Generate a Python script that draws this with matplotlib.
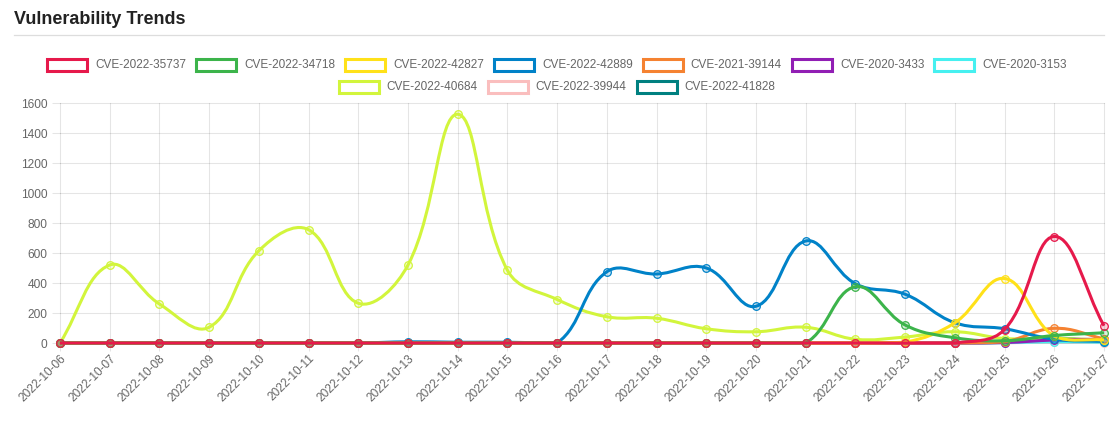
import numpy as np
import matplotlib
matplotlib.use("Agg")
import matplotlib.pyplot as plt
from matplotlib.path import Path
from matplotlib.patches import PathPatch, Rectangle
from matplotlib.lines import Line2D

plt.rcParams['font.family'] = ['Liberation Sans', 'DejaVu Sans']

dates = ["2022-10-%02d" % d for d in range(6, 28)]

series_names = ["CVE-2022-35737", "CVE-2022-34718", "CVE-2022-42827", "CVE-2022-42889",
                "CVE-2021-39144", "CVE-2020-3433", "CVE-2020-3153", "CVE-2022-40684",
                "CVE-2022-39944", "CVE-2022-41828"]
colors = ["#e6194b", "#3cb44b", "#ffe119", "#0082c8", "#f58231", "#911eb4",
          "#46f0f0", "#d2f53c", "#fabebe", "#008080"]

cve_2022_35737 = [0, 0, 0, 0, 0, 0, 0, 0, 0, 0, 0, 0, 0, 0, 0, 0, 0, 0, 0, 90, 710, 115]
cve_2022_34718 = [0, 0, 0, 0, 0, 0, 0, 0, 0, 0, 0, 0, 0, 0, 0, 0, 375, 120, 35, 15, 50, 68]
cve_2022_42827 = [0, 0, 0, 0, 0, 0, 0, 0, 0, 0, 0, 0, 0, 0, 0, 0, 0, 5, 135, 430, 45, 20]
cve_2022_42889 = [0, 0, 0, 0, 0, 0, 0, 8, 5, 5, 0, 475, 460, 500, 245, 680, 395, 325, 135, 95, 25, 10]
cve_2021_39144 = [0, 0, 0, 0, 0, 0, 0, 0, 0, 0, 0, 0, 0, 0, 0, 0, 0, 0, 0, 8, 98, 28]
cve_2020_3433 = [0, 0, 0, 0, 0, 0, 0, 0, 0, 0, 0, 0, 0, 0, 0, 0, 0, 0, 0, 3, 20, 25]
cve_2020_3153 = [0, 0, 0, 0, 0, 0, 0, 0, 0, 0, 0, 0, 0, 0, 0, 0, 0, 0, 0, 2, 8, 5]
cve_2022_40684 = [0, 520, 260, 105, 615, 755, 265, 520, 1525, 485, 290, 175, 165, 95, 75, 105, 25, 40, 75, 30, 30, 20]
cve_2022_39944 = [0, 0, 0, 0, 0, 0, 0, 0, 0, 0, 0, 0, 0, 0, 0, 0, 0, 0, 0, 2, 5, 3]
cve_2022_41828 = [0, 0, 0, 0, 0, 0, 0, 0, 0, 0, 0, 0, 0, 0, 0, 0, 0, 0, 0, 5, 30, 12]

all_series = [cve_2022_35737, cve_2022_34718, cve_2022_42827, cve_2022_42889,
              cve_2021_39144, cve_2020_3433, cve_2020_3153, cve_2022_40684,
              cve_2022_39944, cve_2022_41828]

W, H = 1118, 428
fig = plt.figure(figsize=(W / 100, H / 100), dpi=100)

# plot area in pixels
px_l, px_r, px_t, px_b = 60, 1104, 103, 343
ax = fig.add_axes([px_l / W, (H - px_b) / H, (px_r - px_l) / W, (px_b - px_t) / H])
n = len(dates)
xs = np.arange(n)
ymax = 1600
ax.set_xlim(0, n - 1)
ax.set_ylim(0, ymax)
sx = (px_r - px_l) / (n - 1)
sy = (px_b - px_t) / ymax


def chartjs_path(x, y, t=0.4):
    pts = [(float(a), float(b)) for a, b in zip(x, y)]
    m = len(pts)
    cps = []
    for i in range(m):
        prev = pts[i - 1] if i > 0 else pts[i]
        cur = pts[i]
        nxt = pts[i + 1] if i < m - 1 else pts[i]
        d01 = np.hypot((cur[0] - prev[0]) * sx, (cur[1] - prev[1]) * sy)
        d12 = np.hypot((nxt[0] - cur[0]) * sx, (nxt[1] - cur[1]) * sy)
        tot = d01 + d12
        s01 = d01 / tot if tot else 0
        s12 = d12 / tot if tot else 0
        fa, fb = t * s01, t * s12
        p = (cur[0] - fa * (nxt[0] - prev[0]), cur[1] - fa * (nxt[1] - prev[1]))
        q = (cur[0] + fb * (nxt[0] - prev[0]), cur[1] + fb * (nxt[1] - prev[1]))
        cap = lambda c: (min(max(c[0], 0), n - 1), min(max(c[1], 0), ymax))
        cps.append((cap(p), cap(q)))
    verts = [pts[0]]
    codes = [Path.MOVETO]
    for i in range(1, m):
        verts += [cps[i - 1][1], cps[i][0], pts[i]]
        codes += [Path.CURVE4] * 3
    return Path(verts, codes)


# grid
grid_c = (0, 0, 0, 0.1)
for yv in range(0, ymax + 1, 200):
    ax.axhline(yv, color=(0, 0, 0, 0.25) if yv == 0 else grid_c, lw=0.75, zorder=0, clip_on=False)
for xv in xs:
    ax.axvline(xv, color=grid_c, lw=0.75, zorder=0, clip_on=False)
for s in ax.spines.values():
    s.set_visible(False)

for i in range(len(all_series) - 1, -1, -1):
    vals = all_series[i]
    c = colors[i]
    z = 10 + (len(all_series) - i) * 2
    ax.add_patch(PathPatch(chartjs_path(xs, vals), fill=False, edgecolor=c, lw=2.2,
                           zorder=z, clip_on=False, capstyle='butt', joinstyle='round'))
    ax.plot(xs, vals, linestyle='none', marker='o', markersize=5.5, markerfacecolor=c + "33",
            markeredgecolor=c, markeredgewidth=0.9, zorder=z + 1, clip_on=False)

ax.set_yticks(range(0, ymax + 1, 200))
ax.set_xticks(xs)
ax.set_xticklabels(dates, rotation=45, ha='right', rotation_mode='anchor')
ax.tick_params(axis='both', colors=(0, 0, 0, 0.1), labelcolor='#666666', labelsize=8.6,
               length=6, width=0.75, pad=3)
ax.tick_params(axis='x', pad=1)

# title and rule
fig.text(14 / W, 1 - 19 / H, "Vulnerability Trends", fontsize=13, fontweight='bold',
         color='#222222', va='center', ha='left')
fig.add_artist(Line2D([14 / W, 1104 / W], [1 - 34.5 / H, 1 - 34.5 / H], color='#dddddd', lw=0.9))

# legend (Chart.js style)
rows = [list(range(0, 7)), list(range(7, 10))]
row_y = [65, 87]
fig.canvas.draw()
renderer = fig.canvas.get_renderer()
fs = 8.45
box_w, box_h, gap_t, gap_i = 40, 12, 8, 10
center = 557
for row, yc in zip(rows, row_y):
    widths = []
    for i in row:
        t = fig.text(0, 0, series_names[i], fontsize=fs)
        bb = t.get_window_extent(renderer)
        t.remove()
        widths.append(bb.width)
    total = sum(box_w + gap_t + w for w in widths) + gap_i * (len(row) - 1)
    x0 = center - total / 2
    for i, w in zip(row, widths):
        fig.add_artist(Rectangle((x0 / W, 1 - (yc + box_h / 2) / H), box_w / W, box_h / H,
                                 transform=fig.transFigure, facecolor='white',
                                 edgecolor=colors[i], lw=2.2))
        fig.text((x0 + box_w + gap_t) / W, 1 - yc / H, series_names[i], fontsize=fs,
                 color='#666666', va='center', ha='left')
        x0 += box_w + gap_t + w + gap_i

fig.savefig("out.png", dpi=100, facecolor='white')
